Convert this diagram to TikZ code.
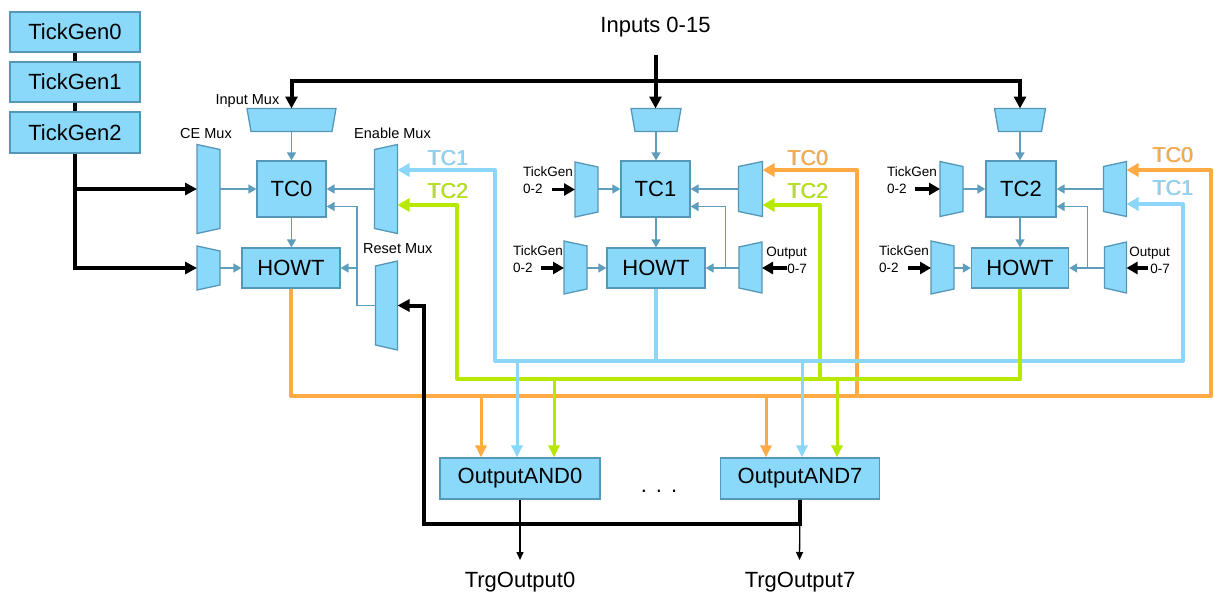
\documentclass[tikz,border=0pt]{standalone}
\usepackage{fontspec}
\setmainfont{Liberation Sans}
\usetikzlibrary{arrows.meta,calc}

\definecolor{boxfill}{RGB}{138,217,250}
\definecolor{boxedge}{RGB}{86,150,182}
\definecolor{wire}{RGB}{94,158,188}
\definecolor{tcorange}{RGB}{255,170,66}
\definecolor{tcblue}{RGB}{140,214,250}
\definecolor{tcgreen}{RGB}{182,232,0}

\tikzset{
  block/.style={draw=boxedge, fill=boxfill, line width=1.3pt, inner sep=0pt,
    font=\fontsize{22}{26}\selectfont},
  muxanchor/.style={inner sep=0pt, outer sep=0pt},
  muxbody/.style={draw=boxedge, fill=boxfill, line width=1.3pt, line join=miter},
  steel/.style={draw=wire, line width=1.5pt, -{Triangle[length=8pt,width=9pt]}},
  heavy/.style={draw=black, line width=4pt},
  heavytip/.style={heavy, -{Triangle[length=12pt,width=12pt]}},
  shorttip/.style={draw=black, line width=3.6pt, -{Triangle[length=11pt,width=12pt]}},
  bus/.style={line width=4pt, line join=round},
  bustip/.style={bus, -{Triangle[length=12pt,width=13pt]}},
  drop/.style={line width=3pt, -{Triangle[length=12pt,width=11pt]}},
  thinout/.style={draw=black, line width=1.3pt, -{Triangle[length=8pt,width=7pt]}},
  muxlabel/.style={inner sep=0pt, font=\fontsize{14.5}{17}\selectfont},
  sidelabel/.style={inner sep=0pt, font=\fontsize{13.5}{17}\selectfont},
  tclabel/.style={inner sep=0pt, font=\fontsize{21.5}{25}\selectfont},
  biglabel/.style={inner sep=0pt, font=\fontsize{22}{26}\selectfont},
}

% multiplexer outlines: a named anchor box plus a trapezoid drawn on it
\newcommand\MuxToRight[4]{% name, centre, width, height
  \node[muxanchor, minimum width=#3pt, minimum height=#4pt] (#1) at (#2) {};
  \path[muxbody] (#1.north west) -- ([yshift=-5pt]#1.north east)
    -- ([yshift=5pt]#1.south east) -- (#1.south west) -- cycle;}
\newcommand\MuxToLeft[4]{% name, centre, width, height
  \node[muxanchor, minimum width=#3pt, minimum height=#4pt] (#1) at (#2) {};
  \path[muxbody] ([yshift=-5pt]#1.north west) -- (#1.north east)
    -- (#1.south east) -- ([yshift=5pt]#1.south west) -- cycle;}
\newcommand\MuxDown[4]{% name, centre, width, height
  \node[muxanchor, minimum width=#3pt, minimum height=#4pt] (#1) at (#2) {};
  \path[muxbody] (#1.north west) -- (#1.north east)
    -- ([xshift=-4pt]#1.south east) -- ([xshift=4pt]#1.south west) -- cycle;}
% coloured signal name with a soft shadow
\newcommand\TcLabel[5]{% name, colour, x, y (baseline), text
  \node[tclabel, text=black!30, anchor=base west] (#1s) at ({#3+0.8},{#4+0.8}) {#5};
  \node[tclabel, text=#2, anchor=base west] (#1) at (#3,#4) {#5};}

\begin{document}
\begin{tikzpicture}[x=1pt, y=-1pt]
\path[fill=white] (0,0) rectangle (1214,594);
\useasboundingbox (0,0) rectangle (1214,594);

% tick generators
\node[block, minimum width=130pt, minimum height=40pt] (tg0) at (75,32) {TickGen0};
\node[block, minimum width=130pt, minimum height=40pt] (tg1) at (75,82) {TickGen1};
\node[block, minimum width=130pt, minimum height=41pt] (tg2) at (75,132.5) {TickGen2};

% counters and hold-off timers
\node[block, minimum width=69pt, minimum height=56pt] (tc0) at (291.5,189) {TC0};
\node[block, minimum width=98pt, minimum height=40pt] (howt0) at (291,268) {HOWT};
\node[block, minimum width=69pt, minimum height=56pt] (tc1) at (655.5,189) {TC1};
\node[block, minimum width=98pt, minimum height=40pt] (howt1) at (656,268) {HOWT};
\node[block, minimum width=70pt, minimum height=56pt] (tc2) at (1021,189) {TC2};
\node[block, minimum width=97pt, minimum height=40pt] (howt2) at (1020,268) {HOWT};

% output gates
\node[block, minimum width=160pt, minimum height=41pt] (and0) at (520,478.5) {OutputAND0};
\node[block, minimum width=159pt, minimum height=41pt] (and7) at (800,478.5) {OutputAND7};
\node[biglabel, anchor=base] (dots) at (659,492) {.\hspace{9pt}.\hspace{9pt}.};

% multiplexers
\MuxDown{inmux0}{291.5,120}{89}{23}
\MuxDown{inmux1}{656,120}{50}{23}
\MuxDown{inmux2}{1020,120}{51}{23}
\MuxToRight{cemux0}{208.5,189}{23}{89}
\MuxToRight{tgmux0}{208.5,268}{23}{44}
\MuxToLeft{enmux0}{386,189}{23}{89}
\MuxToLeft{rstmux0}{386.5,305.5}{22}{89}
\MuxToRight{cemux1}{586.5,189.5}{23}{55}
\MuxToRight{tgmux1}{575.5,267.5}{23}{53}
\MuxToLeft{enmux1}{750.5,189}{24}{55}
\MuxToLeft{rstmux1}{750.5,267.5}{23}{51}
\MuxToRight{cemux2}{951.5,189}{23}{55}
\MuxToRight{tgmux2}{942.5,267.5}{23}{53}
\MuxToLeft{enmux2}{1115,189}{23}{55}
\MuxToLeft{rstmux2}{1115.5,267.5}{22}{51}

% labels
\node[muxlabel, anchor=base east] (lblin) at (279.5,104) {Input Mux};
\node[muxlabel, anchor=base west] (lblce) at (180,138) {CE Mux};
\node[muxlabel, anchor=base west] (lblen) at (354,138) {Enable Mux};
\node[muxlabel, anchor=base west] (lblrst) at (363,253) {Reset Mux};
\node[biglabel, anchor=base] (inputs) at (655.5,33) {Inputs 0-15};

\node[sidelabel, anchor=north west, align=left] (tgt1a) at (523,167) {TickGen\\0-2};
\node[sidelabel, anchor=north west, align=left] (tgt1b) at (513,246) {TickGen\\0-2};
\node[sidelabel, anchor=north west, align=left] (tgt2a) at (887,167) {TickGen\\0-2};
\node[sidelabel, anchor=north west, align=left] (tgt2b) at (879,246) {TickGen\\0-2};
\node[sidelabel, anchor=north east, align=right] (out1) at (807,247) {Output\\0-7};
\node[sidelabel, anchor=north east, align=right] (out2) at (1170,247) {Output\\0-7};

\TcLabel{l0b}{tcblue}{427}{165}{TC1}
\TcLabel{l0g}{tcgreen}{427}{198}{TC2}
\TcLabel{l1o}{tcorange}{787}{165}{TC0}
\TcLabel{l1g}{tcgreen}{787}{198}{TC2}
\TcLabel{l2o}{tcorange}{1152}{162}{TC0}
\TcLabel{l2b}{tcblue}{1152}{195}{TC1}

% internal connections of each channel
\draw[steel] (inmux0.south) -- (tc0.north);
\draw[steel] (cemux0.east) -- (tc0.west);
\draw[steel] (tc0.south) -- (tc0.south |- howt0.north);
\draw[steel] (tgmux0.east |- howt0.west) -- (howt0.west);
\draw[steel] (enmux0.west) -- (tc0.east);
\coordinate (rj0) at (357,268);
\draw[steel] (rstmux0.west) -| (rj0) -- (howt0.east);
\draw[steel] (rj0) |- ([yshift=-17.5pt]tc0.east);

\draw[steel] (inmux1.south) -- (inmux1.south |- tc1.north);
\draw[steel] (cemux1.east |- tc1.west) -- (tc1.west);
\draw[steel] (howt1.north |- tc1.south) -- (howt1.north);
\draw[steel] (tgmux1.east |- howt1.west) -- (howt1.west);
\draw[steel] (enmux1.west |- tc1.east) -- (tc1.east);
\coordinate (rj1) at (725.7,268);
\draw[steel] (rstmux1.west |- howt1.east) -- (howt1.east);
\draw[steel] (rj1) |- ([yshift=-17.5pt]tc1.east);

\draw[steel] (inmux2.south) -- (inmux2.south |- tc2.north);
\draw[steel] (cemux2.east |- tc2.west) -- (tc2.west);
\draw[steel] (howt2.north |- tc2.south) -- (howt2.north);
\draw[steel] (tgmux2.east |- howt2.west) -- (howt2.west);
\draw[steel] (enmux2.west |- tc2.east) -- (tc2.east);
\coordinate (rj2) at (1087.3,268);
\draw[steel] (rstmux2.west |- howt2.east) -- (howt2.east);
\draw[steel] (rj2) |- ([yshift=-17.5pt]tc2.east);

% tick generator chain
\draw[heavy] (tg0.south) -- (tg1.north);
\draw[heavy] (tg1.south) -- (tg2.north);
\draw[heavytip] (tg2.south) |- (tgmux0.west);
\coordinate (tgj) at (75,189);
\draw[heavytip] (tgj) -- (cemux0.west);

% input bus
\coordinate (insrc) at (655.5,55);
\coordinate (busc) at (655.5,81);
\draw[heavytip] (insrc) -- (insrc |- inmux1.north);
\draw[heavytip] (busc) -| (inmux0.north);
\draw[heavytip] (busc) -| (inmux2.north);

% short select inputs
\coordinate (tga1) at (551.7,189.5);
\coordinate (tgb1) at (540.7,268);
\coordinate (tga2) at (915,189);
\coordinate (tgb2) at (907.7,268);
\coordinate (outa1) at (787,268);
\coordinate (outa2) at (1148,268);
\draw[shorttip] (tga1) -- (tga1 -| cemux1.west);
\draw[shorttip] (tgb1) -- (tgb1 -| tgmux1.west);
\draw[shorttip] (tga2) -- (tga2 -| cemux2.west);
\draw[shorttip] (tgb2) -- (tgb2 -| tgmux2.west);
\draw[shorttip] (outa1) -- (outa1 -| rstmux1.east);
\draw[shorttip] (outa2) -- (outa2 -| rstmux2.east);

% TC0 signal (orange)
\coordinate (oR) at (1211,396);
\coordinate (oM) at (857,396);
\draw[bustip, tcorange] (howt0.south) |- (oR) |- ([yshift=19pt]enmux2.east);
\draw[bustip, tcorange] (oM) |- ([yshift=19pt]enmux1.east);

% TC2 branch to channel 1
\coordinate (gM) at (820,379);
\draw[bustip, tcgreen] (gM) |- ([yshift=-16pt]enmux1.east);

% TC1 signal (blue)
\coordinate (bL) at (495,361);
\coordinate (bM) at (656,361);
\coordinate (bR) at (1183,361);
\draw[bustip, tcblue] (howt1.south) |- (bL) |- ([yshift=19pt]enmux0.east);
\draw[bustip, tcblue] (bM) -- (bR) |- ([yshift=-15pt]enmux2.east);

% TC2 signal (green)
\coordinate (gL) at (457,379);
\draw[bustip, tcgreen] (howt2.south) |- (gL) |- ([yshift=-16pt]enmux0.east);

% taps into the output gates
\coordinate (od0) at (481,396);
\coordinate (od7) at (766,396);
\coordinate (gd0) at (554,379);
\coordinate (gd7) at (837,379);
\coordinate (bd0) at (517,361);
\coordinate (bd7) at (802,361);
\draw[drop, tcorange] (od0) -- (od0 |- and0.north);
\draw[drop, tcorange] (od7) -- (od7 |- and7.north);
\draw[drop, tcgreen] (gd0) -- (gd0 |- and0.north);
\draw[drop, tcgreen] (gd7) -- (gd7 |- and7.north);
\draw[drop, tcblue] (bd0) -- (bd0 |- and0.north);
\draw[drop, tcblue] (bd7) -- (bd7 |- and7.north);

% reset feedback from the last output gate
\coordinate (rb) at (424,524);
\draw[heavytip] (and7.south) |- (rb) |- (rstmux0.east);

% trigger outputs
\node[biglabel, anchor=base] (trg0) at (520,587) {TrgOutput0};
\node[biglabel, anchor=base] (trg7) at (800,587) {TrgOutput7};
\coordinate (tip0) at (520,560);
\coordinate (tip7) at (799.5,560);
\draw[thinout] (and0.south) -- (tip0);
\draw[thinout] (and7.south) -- (tip7);
\end{tikzpicture}
\end{document}
